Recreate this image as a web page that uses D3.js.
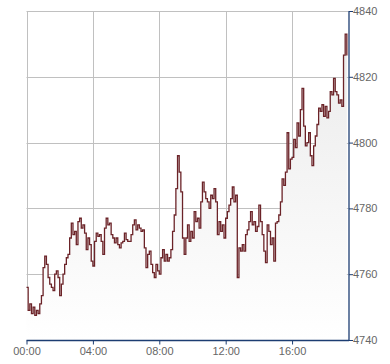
<!DOCTYPE html>
<html lang="en">
  <head>
    <meta charset="utf-8">
    <title>Intraday index</title>
    <script src="https://cdn.jsdelivr.net/npm/d3@7"></script>
    <style>
      body { margin: 0; background: #fff; }
      text { font-family: "Liberation Sans", Arial, sans-serif; }
    </style>
  </head>
  <body>
    <script>
    // values read every 6 minutes from 00:00
    var stepMinutes = 6;
    var values = [
      4756, 4749, 4751, 4748, 4750, 4747.5, 4749, 4748, 4751, 4753.5,
      4762, 4765.5, 4763, 4759, 4757, 4756, 4755, 4760, 4761, 4759,
      4753.5, 4757, 4760, 4763, 4765, 4766, 4771, 4775.5, 4772, 4773,
      4769, 4776, 4777, 4774, 4775, 4772.5, 4767.5, 4771, 4769, 4764,
      4762.5, 4770, 4772.5, 4771.5, 4772, 4770, 4766, 4774, 4777, 4775,
      4775.5, 4772, 4771, 4769.5, 4771, 4769, 4768, 4769.5, 4770, 4772.5,
      4770.5, 4770, 4770, 4772, 4775, 4776.5, 4773.5, 4775, 4774, 4773,
      4773.5, 4768, 4762, 4766, 4767, 4763, 4760.5, 4759, 4763, 4761,
      4760, 4765, 4767.5, 4764, 4766, 4764, 4765, 4767.5, 4773, 4778,
      4786, 4796, 4791, 4785, 4771, 4766, 4771, 4775, 4770, 4773,
      4771, 4779, 4776, 4777, 4774, 4782, 4788, 4785, 4783, 4782,
      4780, 4784, 4783, 4786, 4782, 4772, 4776, 4773, 4775, 4771,
      4777, 4779, 4781, 4783, 4786.5, 4782, 4784, 4759, 4768, 4767,
      4769, 4767, 4772, 4773.5, 4776, 4779, 4775, 4776, 4773, 4774.5,
      4781, 4776, 4772, 4767, 4763.5, 4775, 4773, 4769, 4771, 4764,
      4775.5, 4776, 4778, 4782, 4789, 4787, 4791, 4803, 4792, 4795,
      4795.5, 4801, 4798.5, 4806, 4802, 4810, 4816.5, 4805, 4799, 4800,
      4803, 4796, 4793, 4799, 4802, 4805.5, 4810.5, 4809.5, 4811.5, 4808,
      4811, 4807.5, 4809.5, 4815.5, 4814.5, 4819.5, 4815.5, 4814.5, 4812, 4813,
      4811, 4826.6, 4833, 4826.5
    ];
    var yTicks = [4740, 4760, 4780, 4800, 4820, 4840];
    var xTickHours = [0, 4, 8, 12, 16];

    var w = 390, h = 364;
    var plotL = 26.5, plotR = 348.5, plotT = 11, plotB = 340;

    var day = new Date(2000, 0, 1);
    var at = function(minutes) { return new Date(day.getTime() + minutes * 60000); };
    var data = values.map(function(v, i) { return { t: at(i * stepMinutes), v: v }; });

    var xScale = d3.scaleTime()
                   .domain([at(0), at(19.4 * 60)])
                   .range([plotL, plotR]);
    var yScale = d3.scaleLinear()
                   .domain([4740, 4840])
                   .range([plotB, plotT]);

    var svg = d3.select("body").append("svg")
                .attr("width", w)
                .attr("height", h);

    var grad = svg.append("defs").append("linearGradient")
                  .attr("id", "fade")
                  .attr("gradientUnits", "userSpaceOnUse")
                  .attr("x1", 0).attr("x2", 0)
                  .attr("y1", plotT).attr("y2", plotB);
    grad.append("stop").attr("offset", "0%").attr("stop-color", "#e9e9e9");
    grad.append("stop").attr("offset", "100%").attr("stop-color", "#ffffff");

    // grid
    var grid = svg.append("g").attr("stroke", "#c0c0c0").attr("stroke-width", 1);
    grid.selectAll(".h").data(yTicks.filter(function(d) { return d > 4740; }))
        .enter().append("line")
        .attr("x1", plotL).attr("x2", plotR)
        .attr("y1", function(d) { return Math.round(yScale(d)) + 0.5; })
        .attr("y2", function(d) { return Math.round(yScale(d)) + 0.5; });
    grid.selectAll(".v").data(xTickHours)
        .enter().append("line")
        .attr("y1", plotT).attr("y2", plotB)
        .attr("x1", function(d) { return Math.round(xScale(at(d * 60))) + 0.5; })
        .attr("x2", function(d) { return Math.round(xScale(at(d * 60))) + 0.5; });

    // area + line, drawn as steps like the tick feed
    var area = d3.area()
                 .curve(d3.curveStepAfter)
                 .x(function(d) { return xScale(d.t); })
                 .y0(plotB)
                 .y1(function(d) { return yScale(d.v); });
    var line = d3.line()
                 .curve(d3.curveStepAfter)
                 .x(function(d) { return xScale(d.t); })
                 .y(function(d) { return yScale(d.v); });

    svg.append("path").datum(data)
       .attr("d", area)
       .attr("fill", "url(#fade)");
    svg.append("path").datum(data)
       .attr("d", line)
       .attr("fill", "none")
       .attr("stroke", "#6b2328")
       .attr("stroke-width", 1.3);

    // axes
    var xAxis = d3.axisBottom(xScale)
                  .tickValues(xTickHours.map(function(d) { return at(d * 60); }))
                  .tickFormat(d3.timeFormat("%H:%M"))
                  .tickSize(4)
                  .tickPadding(3);
    var yAxis = d3.axisRight(yScale)
                  .tickValues(yTicks)
                  .tickFormat(d3.format("d"))
                  .tickSize(4)
                  .tickPadding(0);

    var gx = svg.append("g").attr("transform", "translate(0," + (plotB + 0.5) + ")").call(xAxis);
    var gy = svg.append("g").attr("transform", "translate(" + (plotR + 0.5) + ",0)").call(yAxis);

    [gx, gy].forEach(function(g) {
      g.select(".domain").attr("stroke", "#1c3d72").attr("stroke-width", 1.3);
      g.selectAll(".tick line").attr("stroke", "#1c3d72");
      g.selectAll(".tick text")
       .attr("fill", "#666")
       .attr("font-size", 11)
       .attr("font-family", "Liberation Sans, Arial, sans-serif");
    });
    gx.select(".domain").attr("d", "M" + plotL + ",0H" + (plotR + 0.5));
    gy.select(".domain").attr("d", "M0," + plotT + "V" + plotB);
    </script>
  </body>
</html>
